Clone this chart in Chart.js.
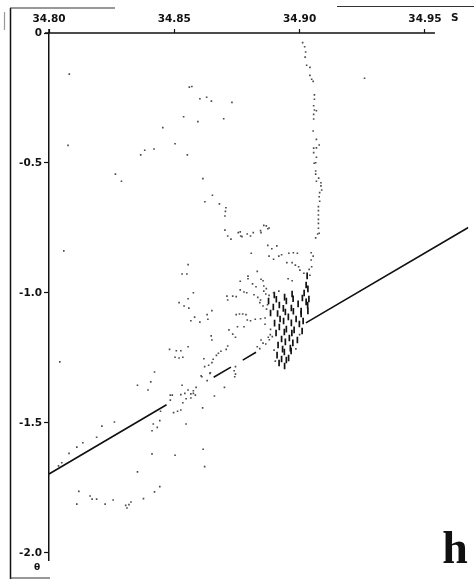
<!DOCTYPE html>
<html><head><meta charset="utf-8">
<script src="https://cdn.jsdelivr.net/npm/chart.js@4/dist/chart.umd.min.js"></script>
<style>html,body{margin:0;padding:0;background:#fff;overflow:hidden}canvas{display:block}</style>
</head><body>
<canvas id="c" width="474" height="579"></canvas>
<script>
const xTickValues = [34.80, 34.85, 34.90, 34.95];
const xTickLabels = ['34.80', '34.85', '34.90', '34.95'];
const yTickValues = [0, -0.5, -1.0, -1.5, -2.0];
const yTickLabels = ['0', '-0.5', '-1.0', '-1.5', '-2.0'];

// [S, theta]
const trailPoints = [
 [34.9012,-0.037],[34.9020,-0.053],[34.9024,-0.073],[34.9022,-0.093],[34.9028,-0.124],[34.9041,-0.132],
 [34.9041,-0.163],[34.9048,-0.178],[34.9054,-0.186],[34.9059,-0.238],[34.9059,-0.255],[34.9056,-0.280],
 [34.9059,-0.296],[34.9067,-0.299],[34.9056,-0.313],[34.9056,-0.331],[34.9054,-0.377],[34.9067,-0.409],
 [34.9078,-0.431],[34.9056,-0.443],[34.9067,-0.442],[34.9056,-0.460],[34.9067,-0.478],[34.9058,-0.501],
 [34.9064,-0.499],[34.9064,-0.531],[34.9064,-0.543],[34.9076,-0.558],[34.9067,-0.570],[34.9085,-0.576],
 [34.9085,-0.588],[34.9088,-0.604],[34.9080,-0.614],[34.9078,-0.630],[34.9080,-0.647],[34.9075,-0.668],
 [34.9075,-0.683],[34.9075,-0.700],[34.9075,-0.717],[34.9075,-0.732],[34.9075,-0.751],[34.9078,-0.770],
 [34.9072,-0.773],[34.9064,-0.788],[34.9259,-0.174]
];

const upperCloud = [
 [34.8081,-0.158],[34.8560,-0.208],[34.8570,-0.206],[34.8602,-0.253],[34.8629,-0.247],[34.8648,-0.262],
 [34.8730,-0.267],[34.8537,-0.322],[34.8594,-0.341],[34.8697,-0.330],[34.8454,-0.364],[34.8076,-0.432],
 [34.8503,-0.426],[34.8419,-0.446],[34.8382,-0.451],[34.8366,-0.469],[34.8552,-0.469],[34.8265,-0.543],
 [34.8289,-0.570],[34.8614,-0.560],[34.8652,-0.624],[34.8622,-0.649],[34.8680,-0.657],[34.8706,-0.672],
 [34.8704,-0.686],[34.8702,-0.704],[34.8763,-0.765],[34.8770,-0.783],[34.8804,-0.781],[34.8815,-0.768],
 [34.8844,-0.760],[34.8846,-0.768],[34.8857,-0.740],[34.8867,-0.742],[34.8873,-0.753],[34.8878,-0.750],
 [34.8702,-0.758],[34.8713,-0.781],[34.8726,-0.793],[34.8755,-0.768],[34.8765,-0.781],[34.8791,-0.773],
 [34.8059,-0.838]
];

const middleCloud = [
 [34.8555,-0.891],[34.8531,-0.927],[34.8550,-0.927],[34.8576,-0.999],[34.8555,-1.022],[34.8519,-1.037],
 [34.8539,-1.050],[34.8558,-1.058],[34.8650,-1.068],[34.8631,-1.083],[34.8634,-1.101],[34.8581,-1.093],
 [34.8566,-1.107],[34.8602,-1.112],[34.8807,-0.847],[34.8831,-0.917],[34.8794,-0.935],[34.8794,-0.945],
 [34.8763,-0.955],[34.8846,-0.947],[34.8854,-0.953],[34.8812,-0.965],[34.8826,-0.976],[34.8857,-0.973],
 [34.8867,-0.983],[34.8873,-0.817],[34.8889,-0.830],[34.8909,-0.819],[34.8878,-0.858],[34.8896,-0.870],
 [34.8917,-0.858],[34.8928,-0.853],[34.8957,-0.847],[34.8975,-0.845],[34.8991,-0.847],[34.8949,-0.883],
 [34.8970,-0.883],[34.8983,-0.893],[34.8996,-0.899],[34.9046,-0.845],[34.9054,-0.858],[34.9046,-0.873],
 [34.9048,-0.899],[34.9038,-0.909],[34.9041,-0.932],[34.9001,-0.912],[34.9017,-0.924],[34.8954,-0.945],
 [34.8970,-0.953],[34.8763,-0.988],[34.8778,-0.996],[34.8789,-0.999],[34.8710,-1.012],[34.8733,-1.012],
 [34.8747,-1.014],[34.8713,-1.027],[34.8818,-1.007],[34.8833,-1.017],[34.8844,-1.027],[34.8857,-0.993],
 [34.8865,-1.004],[34.8878,-1.009],[34.8841,-1.037],[34.8854,-1.050],[34.8896,-0.999],[34.8917,-0.993],
 [34.8747,-1.083],[34.8760,-1.081],[34.8773,-1.081],[34.8786,-1.083],[34.8778,-1.130],[34.8791,-1.104],
 [34.8804,-1.107],[34.8823,-1.101],[34.8844,-1.099],[34.8862,-1.096],[34.8718,-1.142],[34.8733,-1.158],
 [34.8744,-1.170],[34.8752,-1.130],[34.8647,-1.165],[34.8650,-1.181],[34.8713,-1.204],[34.8707,-1.217],
 [34.8686,-1.224],[34.8676,-1.232],[34.8668,-1.240],[34.8655,-1.255],[34.8650,-1.268],[34.8618,-1.253],
 [34.8637,-1.278],[34.8621,-1.283],[34.8481,-1.217],[34.8508,-1.222],[34.8526,-1.222],[34.8555,-1.207],
 [34.8503,-1.247],[34.8519,-1.250],[34.8534,-1.247],[34.8421,-1.304],[34.8607,-1.319],[34.8642,-1.309],
 [34.8744,-1.283],[34.8739,-1.299],[34.8744,-1.312],[34.8846,-1.181],[34.8854,-1.193],[34.8865,-1.196],
 [34.8875,-1.170],[34.8883,-1.160],[34.8891,-1.168],[34.8831,-1.207],[34.8841,-1.214],
 [34.8872,-1.045],[34.8868,-1.062],[34.8884,-1.140],[34.8879,-1.180],[34.8898,-1.220],[34.8903,-1.262],
 [34.8985,-1.215],[34.9000,-1.160],[34.8862,-1.120]
];

const lowerCloud = [
 [34.8043,-1.265],[34.8353,-1.355],[34.8406,-1.342],[34.8395,-1.373],[34.8610,-1.322],[34.8631,-1.337],
 [34.8644,-1.307],[34.8741,-1.322],[34.8700,-1.363],[34.8660,-1.396],[34.8531,-1.355],[34.8555,-1.373],
 [34.8566,-1.388],[34.8576,-1.376],[34.8576,-1.386],[34.8584,-1.393],[34.8587,-1.363],[34.8526,-1.391],
 [34.8542,-1.386],[34.8547,-1.407],[34.8566,-1.404],[34.8484,-1.393],[34.8492,-1.393],[34.8484,-1.412],
 [34.8534,-1.422],[34.8513,-1.455],[34.8526,-1.450],[34.8497,-1.460],[34.8613,-1.442],[34.8445,-1.455],
 [34.8442,-1.491],[34.8416,-1.504],[34.8432,-1.517],[34.8411,-1.530],[34.8547,-1.504],[34.8211,-1.512],
 [34.8261,-1.496],[34.8190,-1.555],[34.8135,-1.576],[34.8111,-1.593],[34.8080,-1.617],[34.8051,-1.653],
 [34.8038,-1.665],[34.8411,-1.619],[34.8503,-1.624],[34.8615,-1.601],[34.8621,-1.668],[34.8353,-1.688],
 [34.8442,-1.745],[34.8421,-1.765],[34.8377,-1.791],[34.8327,-1.804],[34.8319,-1.814],[34.8311,-1.827],
 [34.8306,-1.817],[34.8256,-1.796],[34.8224,-1.812],[34.8190,-1.793],[34.8172,-1.793],[34.8164,-1.781],
 [34.8119,-1.763],[34.8111,-1.812]
];

const clusterPoints = [
 [34.8876,-1.031],[34.8895,-1.054],[34.8907,-1.024],[34.8919,-1.046],[34.8935,-1.059],[34.8947,-1.031],
 [34.8967,-1.058],[34.8974,-1.022],[34.8994,-1.042],[34.9006,-1.069],[34.9026,-1.034],[34.8884,-1.077],
 [34.8912,-1.079],[34.8922,-1.100],[34.8943,-1.073],[34.8955,-1.092],[34.8975,-1.070],[34.8986,-1.100],
 [34.9006,-1.081],[34.9014,-1.108],[34.8900,-1.116],[34.8919,-1.131],[34.8936,-1.108],[34.8947,-1.139],
 [34.8967,-1.115],[34.8978,-1.142],[34.8999,-1.119],[34.9010,-1.146],[34.8906,-1.154],[34.8928,-1.177],
 [34.8939,-1.150],[34.8959,-1.173],[34.8969,-1.154],[34.8991,-1.181],[34.8914,-1.200],[34.8932,-1.216],
 [34.8943,-1.188],[34.8963,-1.212],[34.8973,-1.192],[34.8910,-1.239],[34.8928,-1.254],[34.8939,-1.227],
 [34.8956,-1.250],[34.8966,-1.223],[34.8918,-1.269],[34.8940,-1.281],[34.8947,-1.258],[34.8899,-1.008],
 [34.8940,-1.016],[34.8970,-1.004],[34.9011,-1.019],[34.9037,-1.023],[34.9033,-1.069],[34.9032,-1.046],
 [34.9030,-0.934],[34.9026,-0.969],[34.9033,-0.984],[34.9018,-1.000]
];

// fitted line, drawn in pieces (S, theta)
const lineSegments = [
 [[34.8000,-1.696],[34.8469,-1.430]],
 [[34.8657,-1.324],[34.8726,-1.285]],
 [[34.8773,-1.258],[34.8826,-1.228]],
 [[34.9025,-1.115],[34.9673,-0.748]]
];

const toXY = arr => arr.map(p => ({x: p[0], y: p[1]}));
const lineData = [];
lineSegments.forEach((seg, i) => {
  if (i > 0) lineData.push({x: seg[0][0], y: null});
  seg.forEach(p => lineData.push({x: p[0], y: p[1]}));
});

const dotStyle = {pointStyle: 'rect', pointRadius: 1.15, backgroundColor: '#4a4a4a', borderWidth: 0, pointBorderWidth: 0, showLine: false};

const deco = {
  id: 'deco',
  afterDraw(chart) {
    const ctx = chart.ctx, xs = chart.scales.x, ys = chart.scales.y;
    const y0 = ys.getPixelForValue(0);
    ctx.save();
    ctx.strokeStyle = '#111';
    ctx.lineWidth = 1.5;
    ctx.beginPath();
    ctx.moveTo(xs.left - 4, y0);
    ctx.lineTo(xs.getPixelForValue(34.954), y0);
    ctx.stroke();
    ctx.beginPath();
    ctx.moveTo(xs.left, y0 - 4);
    ctx.lineTo(xs.left, y0);
    ctx.stroke();
    // scan frame
    ctx.beginPath();
    ctx.moveTo(10.5, 8); ctx.lineTo(10.5, 579);
    ctx.stroke();
    ctx.lineWidth = 1.2;
    ctx.strokeStyle = '#333';
    ctx.beginPath();
    ctx.moveTo(10, 8); ctx.lineTo(115, 8);
    ctx.moveTo(337, 6.5); ctx.lineTo(474, 6.5);
    ctx.moveTo(10, 578); ctx.lineTo(50, 578);
    ctx.stroke();
    ctx.strokeStyle = '#999';
    ctx.beginPath();
    ctx.moveTo(4.5, 12); ctx.lineTo(4.5, 30);
    ctx.stroke();
    // labels
    ctx.fillStyle = '#111';
    ctx.font = 'bold 10.5px "DejaVu Sans"';
    ctx.textAlign = 'left';
    ctx.textBaseline = 'middle';
    ctx.fillText('S', 451, 18);
    ctx.textAlign = 'center';
    ctx.font = 'bold 9px "DejaVu Sans"';
    ctx.fillText('θ', 37, 568);
    ctx.font = 'bold 46px "Liberation Serif"';
    ctx.textBaseline = 'alphabetic';
    ctx.fillText('h', 455, 563);
    ctx.restore();
  }
};

new Chart(document.getElementById('c'), {
  type: 'scatter',
  data: {
    datasets: [
      Object.assign({label: 'trail', data: toXY(trailPoints)}, dotStyle),
      Object.assign({label: 'upper', data: toXY(upperCloud)}, dotStyle),
      Object.assign({label: 'middle', data: toXY(middleCloud)}, dotStyle),
      Object.assign({label: 'lower', data: toXY(lowerCloud)}, dotStyle),
      {label: 'cluster', data: toXY(clusterPoints), pointStyle: 'line', rotation: 90, pointRadius: 3.3,
       borderColor: '#111', pointBorderWidth: 1.7, borderWidth: 1.7, showLine: false},
      {label: 'line', data: lineData, showLine: true, spanGaps: false, borderColor: '#111', borderWidth: 1.6,
       pointRadius: 0, fill: false}
    ]
  },
  options: {
    responsive: false,
    devicePixelRatio: 1,
    animation: false,
    events: [],
    layout: {padding: {left: 0, right: 0, top: 0, bottom: 19}},
    plugins: {legend: {display: false}, tooltip: {enabled: false}},
    scales: {
      x: {
        type: 'linear', position: 'top', min: 34.80, max: 34.9673,
        afterBuildTicks: s => { s.ticks = xTickValues.map(v => ({value: v})); },
        afterFit: s => { s.height = 33; },
        ticks: {
          padding: 3, color: '#111', maxRotation: 0, autoSkip: false,
          font: {family: 'DejaVu Sans', size: 10.5, weight: 'bold'},
          callback: (v) => { const i = xTickValues.findIndex(t => Math.abs(t - v) < 1e-6); return i >= 0 ? xTickLabels[i] : ''; }
        },
        grid: {drawOnChartArea: false, drawTicks: true, tickLength: 4, tickColor: '#111', tickWidth: 1.2},
        border: {display: false}
      },
      y: {
        type: 'linear', position: 'left', min: -2.027, max: 0,
        afterBuildTicks: s => { s.ticks = yTickValues.map(v => ({value: v})); },
        afterFit: s => { s.width = 49; },
        ticks: {
          padding: 2, color: '#111', autoSkip: false,
          font: {family: 'DejaVu Sans', size: 10.5, weight: 'bold'},
          callback: (v) => { const i = yTickValues.findIndex(t => Math.abs(t - v) < 1e-6); return i >= 0 ? yTickLabels[i] : ''; }
        },
        grid: {drawOnChartArea: false, drawTicks: true, tickLength: 5, tickColor: '#111', tickWidth: 1.2},
        border: {display: true, color: '#111', width: 1.5}
      }
    }
  },
  plugins: [deco]
});
</script>
</body></html>
